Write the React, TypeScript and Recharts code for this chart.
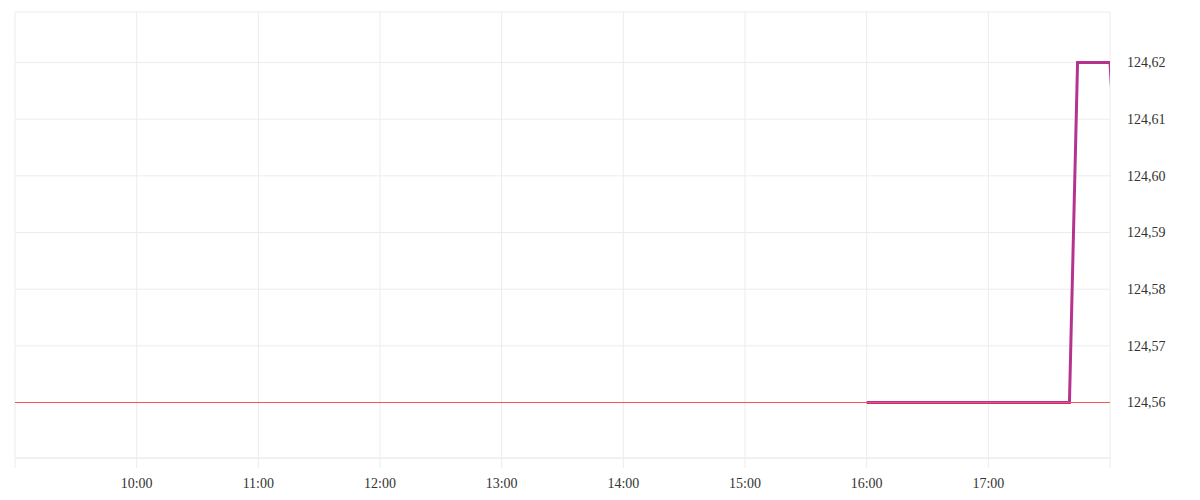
import React from 'react';
import { LineChart, Line, XAxis, YAxis, CartesianGrid, ReferenceLine } from 'recharts';

const times = ['16:00', '17:40', '17:44', '18:00', '18:10'];
const prices = [124.56, 124.56, 124.62, 124.62, 124.56];
const xTickLabels = ['09:00', '10:00', '11:00', '12:00', '13:00', '14:00', '15:00', '16:00', '17:00', '18:00'];
const yTicks = [124.56, 124.57, 124.58, 124.59, 124.6, 124.61, 124.62];
const baseline = 124.56;

const toMin = (t: string) => {
  const [h, m] = t.split(':').map(Number);
  return h * 60 + m;
};

const data = times.map((t, i) => ({ t: toMin(t), v: prices[i] }));
const xTicks = xTickLabels.map(toMin);
const GRID = '#ececec';

export default function App() {
  return (
    <div style={{ position: 'absolute', left: 0, top: 0, width: 1200, height: 500, background: '#fff' }}>
      <LineChart width={1200} height={500} data={data} margin={{ top: 12, right: 0, left: 15, bottom: 0 }}>
        <CartesianGrid stroke={GRID} strokeWidth={1} />
        <XAxis
          dataKey="t"
          type="number"
          domain={[540, 1080]}
          allowDataOverflow
          ticks={xTicks}
          interval={0}
          height={42}
          tickSize={10}
          tickMargin={10}
          axisLine={{ stroke: GRID }}
          tickLine={{ stroke: GRID }}
          tickFormatter={(v: number) => (v === 540 || v === 1080 ? '' : `${Math.floor(v / 60)}:${String(v % 60).padStart(2, '0')}`)}
          tick={{ fill: '#333', fontSize: 14, fontFamily: 'Liberation Serif, serif' }}
        />
        <YAxis
          orientation="right"
          width={90}
          type="number"
          domain={[124.550206, 124.628912]}
          allowDataOverflow
          ticks={yTicks}
          interval={0}
          axisLine={false}
          tickLine={false}
          tickSize={6}
          tickMargin={11}
          tickFormatter={(v: number) => v.toFixed(2).replace('.', ',')}
          tick={{ fill: '#333', fontSize: 14, fontFamily: 'Liberation Serif, serif', textAnchor: 'start' }}
        />
        <Line
          type="linear"
          dataKey="v"
          stroke="#b5338f"
          strokeWidth={3}
          dot={false}
          activeDot={false}
          isAnimationActive={false}
        />
        <ReferenceLine y={baseline} stroke="#f4525f" strokeWidth={1} zIndex={1000} />
      </LineChart>
    </div>
  );
}
